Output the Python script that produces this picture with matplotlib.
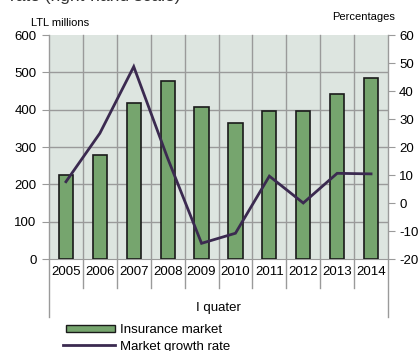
import matplotlib
matplotlib.use("Agg")
import matplotlib.pyplot as plt
import numpy as np

years = ["2005", "2006", "2007", "2008", "2009", "2010", "2011", "2012", "2013", "2014"]
insurance_market = [225, 279, 417, 478, 406, 364, 397, 397, 443, 485]  # LTL millions
growth_rate = [7.6, 24.9, 48.7, 16.0, -14.4, -10.8, 9.6, 0.0, 10.6, 10.4]  # percent

plt.rcParams["font.family"] = ["Liberation Sans", "DejaVu Sans"]
plt.rcParams["axes.unicode_minus"] = False

bg = "#dde5e0"
bar_green = "#76a56e"
line_purple = "#3b2a50"
grid_gray = "#9a9a9a"

fig = plt.figure(figsize=(4.19, 3.51), dpi=100)
ax = fig.add_axes([49 / 419, 1 - 259 / 351, (388 - 49) / 419, (259 - 35) / 351])
ax2 = ax.twinx()

x = np.arange(len(years))
ax.set_facecolor(bg)
ax.bar(x, insurance_market, width=0.42, color=bar_green, edgecolor="#1a1a1a",
       linewidth=1.2, zorder=3)
ax.set_xlim(-0.5, len(years) - 0.5)
ax.set_ylim(0, 600)
ax.set_yticks(range(0, 601, 100))
ax.set_xticks(x)
ax.set_xticklabels(years, fontsize=9.5)
ax.tick_params(axis="x", length=0, pad=5)
ax.tick_params(axis="y", direction="out", length=5, color=grid_gray, labelsize=9.5, pad=4)
for yv in range(100, 600, 100):
    ax.axhline(yv, color=grid_gray, linewidth=1.0, zorder=1)

# category separators, running down through the year labels
for b in np.arange(-0.5, len(years), 1.0):
    outer = b in (-0.5, len(years) - 0.5)
    ax.plot([b, b], [1, -0.13 if not outer else -0.26], color=grid_gray, linewidth=1.0,
            transform=ax.get_xaxis_transform(), clip_on=False, zorder=2)

for s in ax.spines.values():
    s.set_visible(False)
ax.spines["bottom"].set_visible(True)
ax.spines["bottom"].set_color(grid_gray)
for s in ax2.spines.values():
    s.set_visible(False)

ax2.plot(x, growth_rate, color=line_purple, linewidth=2.0, zorder=4,
         solid_joinstyle="miter")
ax2.set_ylim(-20, 60)
ax2.set_yticks(range(-20, 61, 10))
ax2.tick_params(axis="y", direction="out", length=5, color=grid_gray, labelsize=9.5, pad=3)

fig.text(31 / 419, 1 - 26 / 351, "LTL millions", fontsize=8, ha="left", va="baseline")
fig.text(395 / 419, 1 - 20 / 351, "Percentages", fontsize=8, ha="right", va="baseline")
fig.text(218 / 419, 1 - 311 / 351, "I quater", fontsize=9.5, ha="center", va="baseline")
fig.text(10 / 419, 1 - 1 / 351, "rate (right-hand scale)", fontsize=12.5, ha="left",
         va="baseline", color="#333333")

# legend drawn by hand below the axis
fig.patches.append(plt.Rectangle((66 / 419, 1 - 332 / 351), 49 / 419, 7 / 351,
                                 transform=fig.transFigure, facecolor=bar_green,
                                 edgecolor="#1a1a1a", linewidth=1.0))
fig.text(120 / 419, 1 - 333 / 351, "Insurance market", fontsize=9.5, ha="left", va="baseline")
fig.lines.append(plt.Line2D([63 / 419, 115 / 419], [1 - 345 / 351, 1 - 345 / 351],
                            transform=fig.transFigure, color=line_purple, linewidth=2.0))
fig.text(120 / 419, 1 - 350 / 351, "Market growth rate", fontsize=9.5, ha="left", va="baseline")

fig.savefig("out.png", dpi=100)
